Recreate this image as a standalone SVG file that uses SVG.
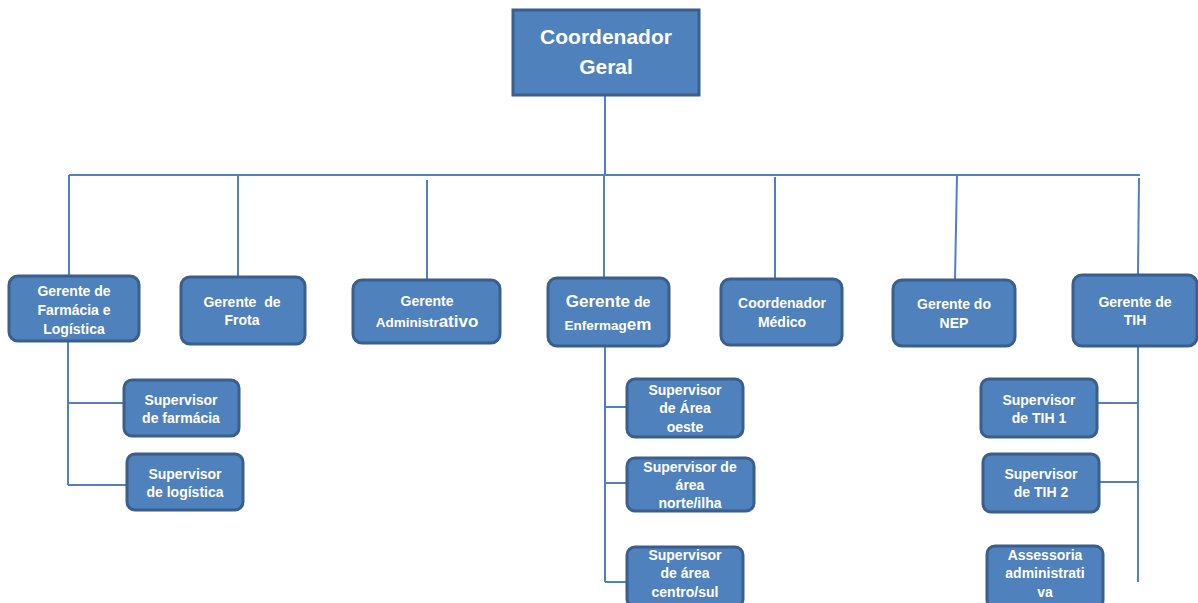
<svg xmlns="http://www.w3.org/2000/svg" width="1198" height="603" viewBox="0 0 1198 603">
<style>
.box{fill:#4f81bd;stroke:#3b5f8c;stroke-width:3}
.ln{stroke:#4f81bd;stroke-width:2;fill:none}
text{font-family:"Liberation Sans",Arial,sans-serif;font-weight:bold;fill:#fff;text-anchor:middle;font-size:14px;white-space:pre}
.big{font-size:21px}
.l{font-size:17px}
</style>
<rect width="1198" height="603" fill="#fff"/>
<g id="connectors">
<path class="ln" d="M605 95V175M69 175H1140M69 175V276M238 175V277M427 180V280M604 175V277M775 177V279M957 175L955 280M1139 178L1138 275"/>
<path class="ln" d="M68 341V485M68 403H124M68 485H127"/>
<path class="ln" d="M605 347V582M605 407H627M605 483H627M605 582H627"/>
<path class="ln" d="M1138 346V582M1097 403H1138M1099 482H1138"/>
</g>
<g id="n0"><rect class="box" x="513" y="10" width="186" height="85"/><text class="big" x="606" y="44">Coordenador</text><text class="big" x="606" y="74">Geral</text></g>
<g id="n1"><rect class="box" x="9" y="276" width="130" height="65" rx="9"/><text x="74" y="296">Gerente de</text><text x="74" y="315">Farmácia e</text><text x="74" y="334">Logística</text></g>
<g id="n2"><rect class="box" x="181" y="277" width="124" height="67" rx="9"/><text x="242" y="307" xml:space="preserve">Gerente  de</text><text x="242" y="325">Frota</text></g>
<g id="n3"><rect class="box" x="353" y="280" width="147" height="63" rx="9"/><text x="427" y="306">Gerente</text><text x="427" y="327"><tspan style="font-size:13.5px">Administr</tspan><tspan class="l">ativo</tspan></text></g>
<g id="n4"><rect class="box" x="548" y="278" width="121" height="68" rx="9"/><text x="608" y="307"><tspan class="l">Gerente</tspan><tspan> de</tspan></text><text x="608" y="330"><tspan style="font-size:13.5px">Enfermag</tspan><tspan class="l">em</tspan></text></g>
<g id="n5"><rect class="box" x="721" y="279" width="121" height="66" rx="9"/><text x="782" y="308">Coordenador</text><text x="782" y="327">Médico</text></g>
<g id="n6"><rect class="box" x="893" y="280" width="122" height="66" rx="9"/><text x="954" y="309">Gerente do</text><text x="954" y="328">NEP</text></g>
<g id="n7"><rect class="box" x="1073" y="275" width="124" height="71" rx="9"/><text x="1135" y="307">Gerente de</text><text x="1135" y="325">TIH</text></g>
<g id="n8"><rect class="box" x="124" y="380" width="115" height="56" rx="8"/><text x="181" y="405">Supervisor</text><text x="181" y="423">de farmácia</text></g>
<g id="n9"><rect class="box" x="127" y="454" width="116" height="56" rx="8"/><text x="185" y="479">Supervisor</text><text x="185" y="497">de logística</text></g>
<g id="n10"><rect class="box" x="627" y="379" width="116" height="58" rx="8"/><text x="685" y="395">Supervisor</text><text x="685" y="413">de Área</text><text x="685" y="432">oeste</text></g>
<g id="n11"><rect class="box" x="627" y="458" width="127" height="53" rx="8"/><text x="690" y="472">Supervisor de</text><text x="690" y="490">área</text><text x="690" y="508">norte/ilha</text></g>
<g id="n12"><rect class="box" x="627" y="547" width="116" height="60" rx="8"/><text x="685" y="560">Supervisor</text><text x="685" y="578">de área</text><text x="685" y="597">centro/sul</text></g>
<g id="n13"><rect class="box" x="981" y="379" width="116" height="58" rx="8"/><text x="1039" y="405">Supervisor</text><text x="1039" y="423">de TIH 1</text></g>
<g id="n14"><rect class="box" x="983" y="454" width="116" height="58" rx="8"/><text x="1041" y="479">Supervisor</text><text x="1041" y="497">de TIH 2</text></g>
<g id="n15"><rect class="box" x="987" y="546" width="116" height="62" rx="8"/><text x="1045" y="560">Assessoria</text><text x="1045" y="578">administrati</text><text x="1045" y="597">va</text></g>
</svg>
